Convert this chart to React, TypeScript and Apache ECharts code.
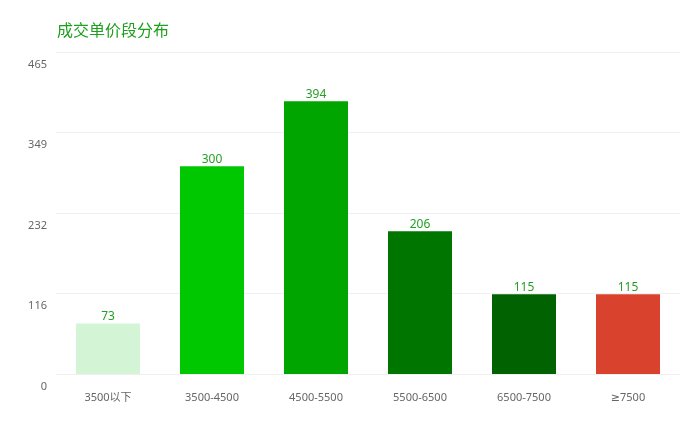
import React, { useEffect, useRef } from "react";
import * as echarts from "echarts";

const categories = ["3500以下", "3500-4500", "4500-5500", "5500-6500", "6500-7500", "≥7500"];
const values = [73, 300, 394, 206, 115, 115];
const barColors = ["#d4f5d5", "#00c800", "#00a500", "#007600", "#006200", "#d9432e"];
const yTickLabels = ["0", "116", "232", "349", "465"];
const yMax = 465;

const FONT = "'Noto Sans', 'DejaVu Sans', 'Noto Sans CJK SC', sans-serif";

export default function App() {
  const ref = useRef<HTMLDivElement>(null);
  useEffect(() => {
    if (!ref.current) return;
    const chart = echarts.init(ref.current, null, { renderer: "svg" });
    const step = yMax / (yTickLabels.length - 1);
    chart.setOption({
      animation: false,
      title: {
        text: "成交单价段分布",
        left: 52,
        top: 16,
        textStyle: { color: "#1e9f1e", fontSize: 16, fontWeight: "normal", fontFamily: "'Noto Sans CJK SC', sans-serif" },
      },
      grid: { left: 56, right: 20, top: 52, bottom: 56, containLabel: false },
      xAxis: {
        type: "category",
        data: categories,
        axisLine: { show: false },
        axisTick: { show: false },
        axisLabel: { color: "#666", fontSize: 11, margin: 17, fontFamily: FONT },
      },
      yAxis: {
        type: "value",
        min: 0,
        max: yMax,
        interval: step,
        axisLine: { show: false },
        axisTick: { show: false },
        splitLine: { lineStyle: { color: "#f0f0f0", width: 1 } },
        axisLabel: {
          color: "#666",
          fontSize: 11,
          margin: 9,
          verticalAlign: "top",
          padding: [6, 0, 0, 0],
          formatter: (v: number) => yTickLabels[Math.round(v / step)] ?? "",
          fontFamily: FONT,
        },
      },
      series: [
        {
          type: "bar",
          barWidth: 64,
          data: values.map((v, i) => ({ value: v, itemStyle: { color: barColors[i] } })),
          label: {
            show: true,
            position: "top",
            distance: 2,
            color: "#23a023",
            fontSize: 12,
            fontFamily: FONT,
          },
        },
      ],
    });
    return () => chart.dispose();
  }, []);
  return <div ref={ref} style={{ position: "fixed", left: 0, top: 0, width: 700, height: 430 }} />;
}
